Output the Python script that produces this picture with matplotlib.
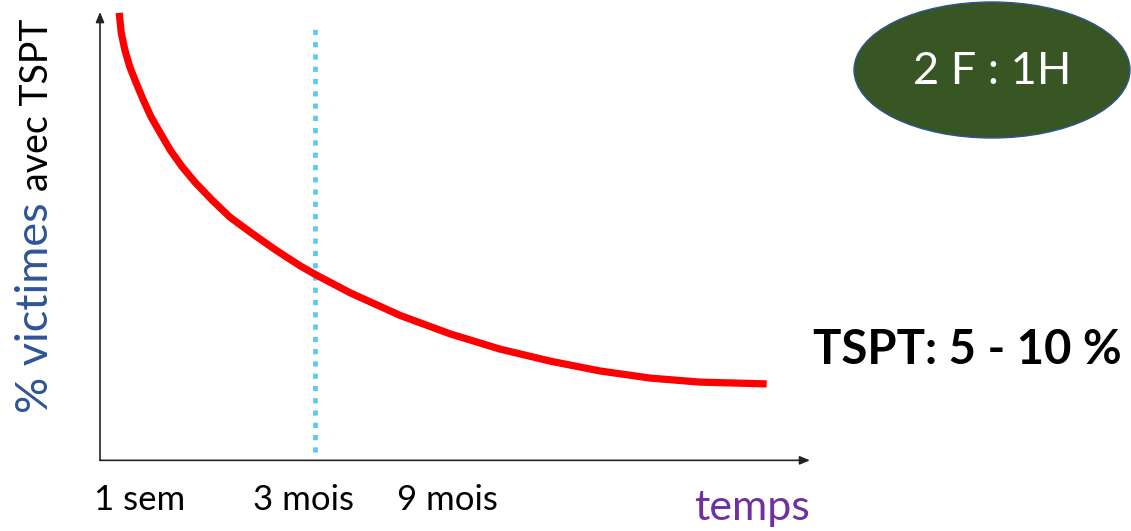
import matplotlib
matplotlib.use("Agg")
import matplotlib.pyplot as plt
from matplotlib.patches import Ellipse

plt.rcParams['font.family'] = ['Lato', 'DejaVu Sans']

# Data (arbitrary units: time 0-100, % 0-100)
curve_x = [2.7, 3.0, 3.5, 4.2, 5.1, 6.1, 7.2, 8.5, 9.9, 11.6, 13.5, 15.8, 18.3,
           21.3, 24.7, 28.2, 30.3, 35.2, 42.3, 49.3, 56.3, 63.4, 70.4, 77.5,
           84.5, 93.9]
curve_y = [99.8, 95.3, 91.5, 87.7, 84.1, 80.3, 76.5, 72.9, 69.1, 65.3, 61.7,
           57.9, 54.1, 50.6, 46.8, 43.2, 41.3, 37.2, 32.1, 28.0, 24.6, 21.9,
           19.7, 18.1, 17.2, 16.8]
tick_pos = [5.6, 28.6, 48.9]
tick_labels = ["1 sem", "3 mois", "9 mois"]
marker_x = 30.3

W, H = 1131, 531
fig = plt.figure(figsize=(W / 100, H / 100), dpi=100)
ax = fig.add_axes([100 / W, 1 - 459 / H, 710 / W, 447 / H])
ax.set_xlim(0, 100)
ax.set_ylim(0, 100)
for s in ax.spines.values():
    s.set_visible(False)

# axes arrows
arrow = dict(arrowstyle="-|>,head_length=0.6,head_width=0.25", color="#222222",
             lw=1.2, shrinkA=0, shrinkB=0)
ax.annotate("", xy=(0, 1.0), xytext=(0, -0.003), xycoords="axes fraction",
            arrowprops=arrow)
ax.annotate("", xy=(1.0, -0.003), xytext=(0, -0.003), xycoords="axes fraction",
            arrowprops=arrow)

ax.axvline(marker_x, ymin=0.016, ymax=0.964, color="#5BC8F5", lw=3.4,
           linestyle=(0, (1.1, 1.5)), dash_capstyle="butt")
ax.plot(curve_x, curve_y, color="#FF0000", lw=5.2, solid_joinstyle="round",
        solid_capstyle="butt")

ax.set_yticks([])
ax.set_xticks(tick_pos)
ax.set_xticklabels(tick_labels, fontsize=25)
ax.tick_params(axis="x", length=0, pad=18)

fig.text(810 / W, 1 - 520 / H, "temps", color="#7030A0", fontsize=31,
         ha="right", va="baseline")

fig.text(48 / W, 1 - 413 / H, "% victimes", color="#2F5597", fontsize=32.5,
         rotation=90, rotation_mode="anchor", ha="left", va="baseline")
fig.text(48 / W, 1 - 191 / H, "avec TSPT", color="black", fontsize=27,
         rotation=90, rotation_mode="anchor", ha="left", va="baseline")

# ellipse badge
fax = fig.add_axes([0, 0, 1, 1], facecolor="none")
fax.set_xlim(0, W)
fax.set_ylim(H, 0)
fax.axis("off")
fax.add_patch(Ellipse((992, 70), 276, 136, facecolor="#375623",
                      edgecolor="#2F5597", lw=1))
fax.text(992, 72, "2 F : 1H", color="white", fontsize=32.5, ha="center",
         va="center")
fax.text(1122, 350, "TSPT: 5 - 10 %", color="black", fontsize=34,
         fontweight="bold", ha="right", va="center")

fig.savefig("out.png", dpi=100)
